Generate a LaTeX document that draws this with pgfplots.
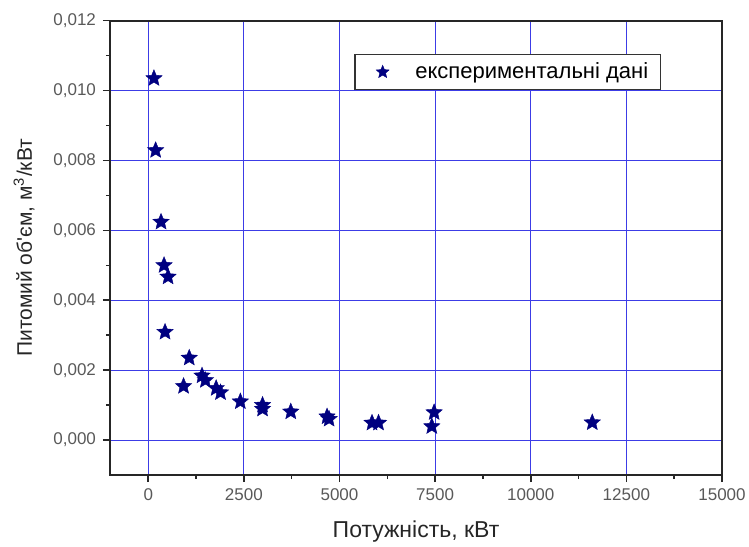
\documentclass[border=0pt]{standalone}
\usepackage{fontspec}
\setmainfont{Liberation Sans}
\usepackage{pgfplots}
\pgfplotsset{compat=1.18}
\usetikzlibrary{calc}
\definecolor{navystar}{RGB}{0,0,128}
\definecolor{gridblue}{RGB}{60,60,230}
\pgfdeclareplotmark{fstar}{%
  \pgfpathmoveto{\pgfpointpolar{90}{\pgfplotmarksize}}%
  \pgfpathlineto{\pgfpointpolar{126}{0.45\pgfplotmarksize}}%
  \pgfpathlineto{\pgfpointpolar{162}{\pgfplotmarksize}}%
  \pgfpathlineto{\pgfpointpolar{198}{0.45\pgfplotmarksize}}%
  \pgfpathlineto{\pgfpointpolar{234}{\pgfplotmarksize}}%
  \pgfpathlineto{\pgfpointpolar{270}{0.45\pgfplotmarksize}}%
  \pgfpathlineto{\pgfpointpolar{306}{\pgfplotmarksize}}%
  \pgfpathlineto{\pgfpointpolar{342}{0.45\pgfplotmarksize}}%
  \pgfpathlineto{\pgfpointpolar{18}{\pgfplotmarksize}}%
  \pgfpathlineto{\pgfpointpolar{54}{0.45\pgfplotmarksize}}%
  \pgfpathclose
  \pgfusepathqfillstroke
}
\pgfplotstableread{
x y
149 0.01035
193 0.00829
334 0.00624
413 0.00500
518 0.00467
439 0.00309
1072 0.00235
923 0.00154
1406 0.00184
1494 0.00171
1775 0.00148
1889 0.00136
2408 0.00110
2988 0.00100
2988 0.00089
3726 0.00081
4675 0.00067
4728 0.00060
5850 0.00049
6020 0.00049
7474 0.00079
7413 0.00039
11608 0.00050
}\datatable
\begin{document}
\begin{tikzpicture}
\begin{axis}[
  scale only axis, width=306pt, height=227.15pt,
  xmin=-1000, xmax=15000, ymin=-0.001, ymax=0.012,
  xtick={0,2500,5000,7500,10000,12500,15000},
  ytick={0,0.002,0.004,0.006,0.008,0.010,0.012},
  minor x tick num=1, minor y tick num=1,
  tick align=outside, xtick pos=bottom, ytick pos=left,
  major tick length=3.5pt, minor tick length=2pt,
  grid=major, major grid style={gridblue, line width=0.55pt},
  axis line style={black!85, line width=1pt},
  every tick/.style={black!85, line width=0.8pt},
  scaled x ticks=false, scaled y ticks=false,
  /pgf/number format/assume math mode=true,
  xticklabel style={/pgf/number format/.cd, fixed, 1000 sep={}},
  yticklabel style={/pgf/number format/.cd, fixed, fixed zerofill, precision=3, use comma},
  tick label style={font=\fontsize{8.5}{10}\selectfont, text=black!65},
  xlabel={Потужність, кВт},
  ylabel={Питомий об\textquotesingle єм, м\textsuperscript{3}/кВт},
  xlabel style={font=\fontsize{11.5}{13}\selectfont, text=black!85, at={(axis description cs:0.5,-0.1255)}, anchor=center},
  ylabel style={font=\fontsize{10.5}{12}\selectfont, text=black!85, at={(axis description cs:-0.1405,0.5)}, anchor=center},
  legend style={at={(0.9,0.9267)}, anchor=north east, draw=black!80, line width=0.6pt, fill=white,
    inner xsep=4pt, inner ysep=2pt, font=\fontsize{11}{13}\selectfont, nodes={inner sep=2pt}, column sep=0pt},
  legend image code/.code={\path (-9.5pt,0pt) (14pt,0pt); \draw[#1, mark size=3.4pt] plot coordinates {(0pt,0pt)};},
]
\addplot[only marks, mark=fstar, mark size=4.3pt, mark options={fill=navystar, draw=navystar, line width=0.2pt}] table {\datatable};
\addlegendentry{експериментальні дані}
\end{axis}
\pgfresetboundingbox
\path ($(current axis.south west)+(-55pt,-35.5pt)$) rectangle ($(current axis.north east)+(13.5pt,10.35pt)$);
\end{tikzpicture}
\end{document}
